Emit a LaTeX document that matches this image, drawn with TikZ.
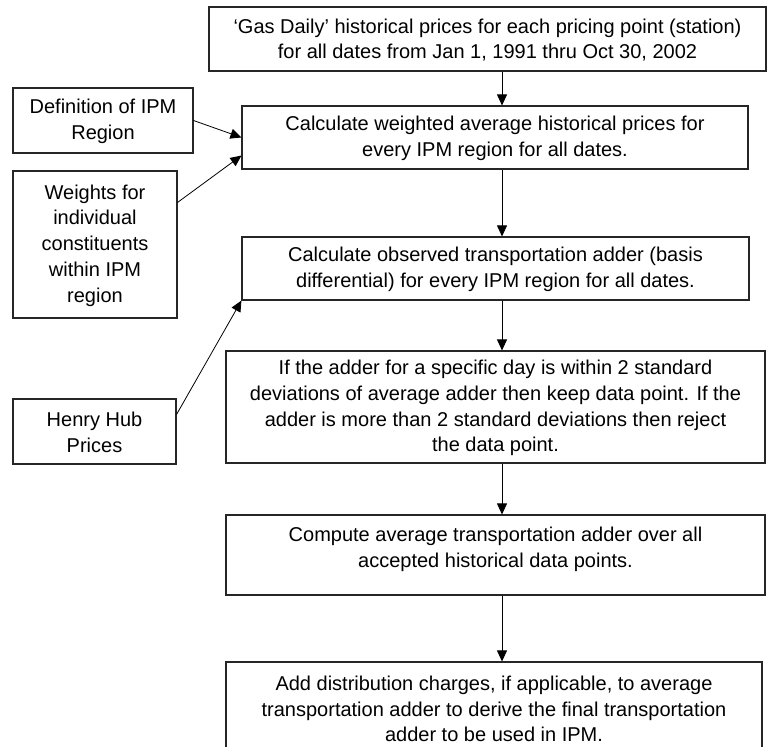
\documentclass[tikz,border=0pt]{standalone}
\usepackage{fontspec}
\setmainfont{Liberation Sans}
\usetikzlibrary{arrows.meta,calc}
\begin{document}
\begin{tikzpicture}[x=1pt,y=-1pt,
  boxstyle/.style={draw=black!85,line width=1.1pt,inner sep=0pt},
  txt/.style={inner sep=0pt,align=center,font=\fontsize{20}{25.8}\selectfont},
  conn/.style={draw=black,line width=0.8pt,-{Triangle[length=11pt,width=10pt]}}]
\useasboundingbox (0,0) rectangle (767,746);
\clip (0,0) rectangle (767,746);
% main boxes
\node[boxstyle,minimum width=557pt,minimum height=64pt] (b1) at (487.5,39) {};
\node[boxstyle,minimum width=506pt,minimum height=63pt] (b2) at (495,137.5) {};
\node[boxstyle,minimum width=507pt,minimum height=63pt] (b3) at (495.5,268.5) {};
\node[boxstyle,minimum width=539pt,minimum height=112pt] (b4) at (495.5,407) {};
\node[boxstyle,minimum width=539pt,minimum height=80pt] (b5) at (495.5,555) {};
\node[boxstyle,minimum width=536pt,minimum height=118pt] (b6) at (494,721) {};
% side boxes
\node[boxstyle,minimum width=180pt,minimum height=65pt] (def) at (103,120.5) {};
\node[boxstyle,minimum width=164pt,minimum height=147pt] (wts) at (95,244.5) {};
\node[boxstyle,minimum width=163pt,minimum height=65pt] (hh) at (94.5,431.5) {};
% texts
\node[txt] (t1) at (487.5,40) {‘Gas Daily’ historical prices for each pricing point (station)\\for all dates from Jan 1, 1991 thru Oct 30, 2002};
\node[txt] (t2) at (495,138.5) {Calculate weighted average historical prices for\\every IPM region for all dates.};
\node[txt] (t3) at (495.5,269.5) {Calculate observed transportation adder (basis\\differential) for every IPM region for all dates.};
\node[txt] (t4) at (495.5,408) {If the adder for a specific day is within 2 standard\\deviations of average adder then keep data point. If the\\adder is more than 2 standard deviations then reject\\the data point.};
\node[txt] (t5) at (495.5,549) {Compute average transportation adder over all\\accepted historical data points.};
\node[txt] (t6) at (494,709) {Add distribution charges, if applicable, to average\\transportation adder to derive the final transportation\\adder to be used in IPM.};
\node[txt] (td) at (103,121.5) {Definition of IPM\\Region};
\node[txt] (tw) at (95,245.5) {Weights for\\individual\\constituents\\within IPM\\region};
\node[txt] (th) at (94.5,432.5) {Henry Hub\\Prices};
% vertical connectors
\draw[conn] (b1.south -| 502,0) -- (b2.north -| 502,0);
\draw[conn] (b2.south -| 502,0) -- (b3.north -| 502,0);
\draw[conn] (b3.south -| 502,0) -- (b4.north -| 502,0);
\draw[conn] (b4.south -| 502,0) -- (b5.north -| 502,0);
\draw[conn] (b5.south -| 502,0) -- (b6.north -| 502,0);
% side connectors
\draw[conn] (def.east) -- (b2.west);
\draw[conn] ($(wts.north east)+(0,32)$) -- ($(b2.south west)+(0,-14)$);
\draw[conn] ($(hh.north east)+(0,16)$) -- (b3.south west);
\end{tikzpicture}
\end{document}
